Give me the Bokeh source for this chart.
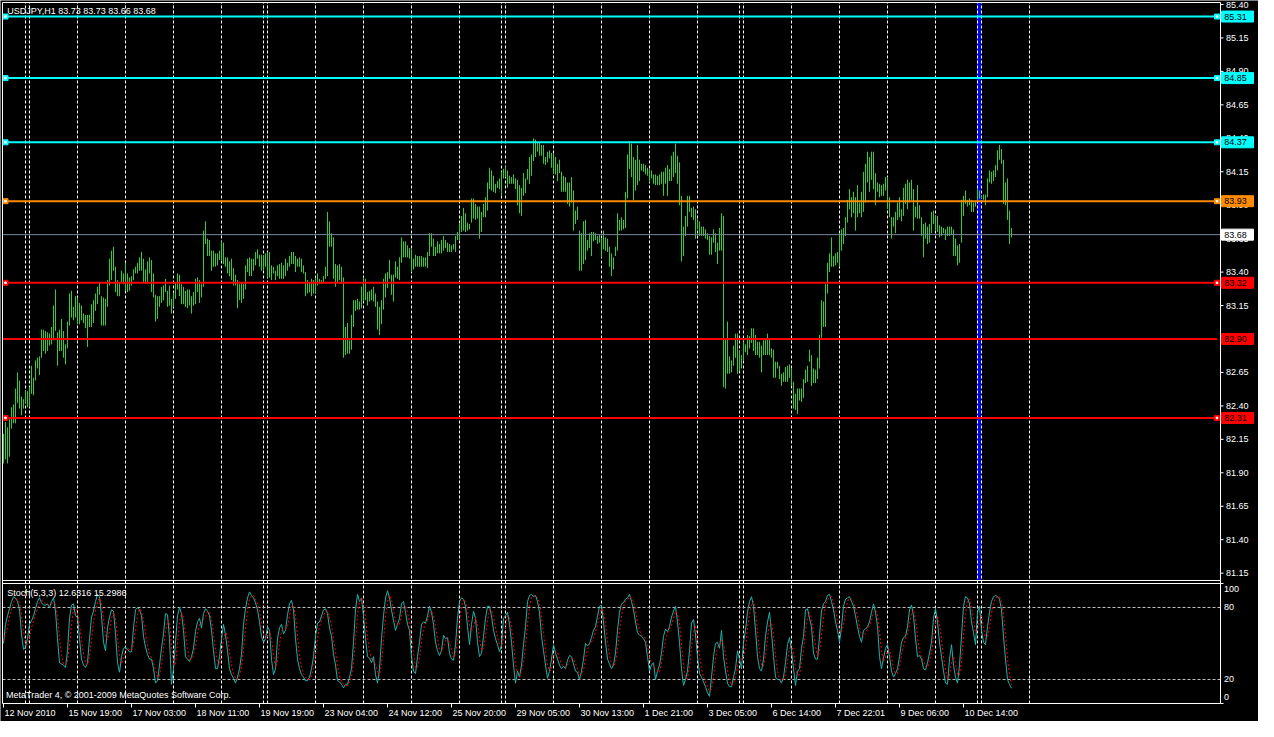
from bokeh.plotting import figure
from bokeh.models import Range1d
from bokeh.core.properties import value
from bokeh.embed import file_html
from bokeh.resources import INLINE

# ---------------- data ----------------
highs = [
82.19,82.28,82.24,82.30,82.39,82.41,82.53,82.65,82.59,82.47,
82.45,82.51,82.51,82.54,82.70,82.61,82.74,82.76,82.77,82.97,
82.97,82.96,82.95,82.94,82.99,83.15,83.27,82.95,82.97,83.05,
82.96,82.86,83.03,83.24,83.26,83.14,83.22,83.21,83.17,83.15,
83.09,83.08,83.08,83.08,83.16,83.19,83.24,83.29,83.32,83.22,
83.21,83.20,83.34,83.50,83.56,83.59,83.44,83.34,83.32,83.41,
83.39,83.47,83.39,83.36,83.37,83.42,83.44,83.47,83.51,83.55,
83.50,83.42,83.48,83.51,83.49,83.39,83.23,83.22,83.22,83.29,
83.30,83.35,83.26,83.30,83.20,83.24,83.32,83.39,83.38,83.31,
83.29,83.26,83.27,83.27,83.22,83.25,83.35,83.36,83.34,83.31,
83.71,83.78,83.65,83.64,83.56,83.56,83.54,83.54,83.56,83.63,
83.62,83.51,83.51,83.48,83.50,83.43,83.38,83.34,83.31,83.32,
83.31,83.45,83.50,83.51,83.50,83.50,83.55,83.57,83.53,83.53,
83.52,83.54,83.55,83.55,83.45,83.44,83.41,83.45,83.46,83.47,
83.45,83.50,83.47,83.52,83.55,83.55,83.52,83.50,83.51,83.50,
83.45,83.40,83.34,83.32,83.35,83.34,83.35,83.39,83.35,83.34,
83.37,83.44,83.85,83.78,83.69,83.66,83.46,83.45,83.46,83.44,
83.36,82.99,83.02,82.89,83.08,83.19,83.19,83.20,83.18,83.29,
83.36,83.35,83.25,83.26,83.27,83.29,83.24,83.18,83.14,83.19,
83.35,83.39,83.40,83.49,83.38,83.38,83.48,83.44,83.51,83.66,
83.63,83.63,83.60,83.58,83.57,83.50,83.53,83.52,83.52,83.52,
83.51,83.51,83.55,83.69,83.69,83.65,83.59,83.63,83.61,83.64,
83.67,83.64,83.62,83.61,83.60,83.61,83.67,83.70,83.76,83.82,
83.88,83.84,83.77,83.76,83.95,83.95,83.91,83.89,83.89,83.85,
83.91,83.96,84.07,84.18,84.16,84.12,84.06,84.08,84.10,84.15,
84.17,84.19,84.16,84.12,84.11,84.13,84.10,84.09,84.05,84.03,
84.14,84.10,84.17,84.26,84.28,84.40,84.39,84.37,84.37,84.35,
84.35,84.26,84.30,84.31,84.29,84.29,84.26,84.21,84.24,84.15,
84.12,84.11,84.07,84.07,84.11,84.01,83.86,83.89,83.71,83.69,
83.78,83.79,83.64,83.69,83.70,83.70,83.69,83.67,83.68,83.65,
83.71,83.66,83.65,83.59,83.54,83.51,83.59,83.84,83.79,83.81,
83.79,84.00,84.28,84.38,84.36,84.26,84.24,84.35,84.24,84.21,
84.21,84.20,84.18,84.17,84.16,84.13,84.13,84.12,84.13,84.15,
84.15,84.18,84.20,84.17,84.27,84.30,84.36,84.27,84.22,83.97,
83.74,83.82,83.97,83.97,83.88,83.89,83.87,83.80,83.78,83.74,
83.74,83.72,83.69,83.67,83.66,83.72,83.69,83.62,83.73,83.84,
83.82,82.90,83.03,82.77,82.74,82.85,82.94,82.94,82.81,82.78,
82.88,82.86,82.93,82.92,82.98,82.98,82.93,82.88,82.88,82.85,
82.89,82.90,82.94,82.90,82.83,82.82,82.73,82.73,82.70,82.64,
82.65,82.69,82.70,82.71,82.68,82.58,82.49,82.53,82.53,82.53,
82.60,82.67,82.70,82.82,82.78,82.68,82.67,82.76,82.93,83.19,
83.18,83.31,83.47,83.54,83.66,83.52,83.54,83.55,83.69,83.72,
83.73,83.81,83.94,84.02,83.96,84.00,83.96,84.05,83.92,84.00,
84.15,84.21,84.30,84.26,84.30,84.30,84.14,84.07,84.06,84.05,
84.06,84.11,84.11,83.96,83.81,83.81,83.85,83.92,83.96,83.87,
84.03,84.06,84.09,84.07,84.09,84.02,83.89,84.05,83.90,83.81,
83.76,83.77,83.74,83.76,83.85,83.86,83.82,83.82,83.75,83.74,
83.73,83.72,83.74,83.74,83.74,83.72,83.65,83.60,83.61,83.94,
83.97,84.01,83.94,83.95,83.94,83.92,83.93,84.02,84.01,83.97,
83.98,83.98,84.10,84.16,84.15,84.16,84.20,84.31,84.35,84.32,
84.24,84.07,84.10,83.86,83.73]

lows = [
81.97,82.00,81.97,82.02,82.23,82.27,82.27,82.42,82.38,82.33,
82.38,82.42,82.39,82.39,82.49,82.48,82.59,82.68,82.63,82.76,
82.81,82.79,82.81,82.85,82.86,82.89,82.96,82.70,82.81,82.81,
82.76,82.71,82.83,83.00,83.06,83.04,83.06,83.01,83.01,83.04,
83.02,82.98,82.84,82.99,82.99,83.02,83.11,83.16,83.23,83.00,
83.00,83.00,83.14,83.30,83.34,83.41,83.25,83.22,83.22,83.32,
83.31,83.26,83.25,83.26,83.30,83.34,83.39,83.39,83.41,83.41,
83.32,83.31,83.32,83.39,83.25,83.21,83.03,83.05,83.14,83.17,
83.19,83.25,83.14,83.15,83.09,83.14,83.20,83.27,83.22,83.16,
83.16,83.14,83.13,83.15,83.09,83.15,83.16,83.25,83.17,83.21,
83.29,83.61,83.52,83.52,83.41,83.44,83.44,83.45,83.49,83.49,
83.46,83.44,83.39,83.37,83.34,83.30,83.30,83.13,83.19,83.17,
83.20,83.27,83.40,83.37,83.37,83.41,83.45,83.50,83.44,83.41,
83.41,83.44,83.36,83.36,83.34,83.39,83.34,83.37,83.35,83.35,
83.35,83.37,83.41,83.44,83.46,83.46,83.40,83.44,83.44,83.40,
83.39,83.22,83.24,83.25,83.22,83.24,83.24,83.30,83.31,83.31,
83.32,83.35,83.37,83.59,83.59,83.35,83.29,83.32,83.34,83.31,
82.76,82.78,82.79,82.79,82.82,82.99,83.11,83.12,83.12,83.13,
83.18,83.19,83.15,83.18,83.19,83.18,83.14,82.97,82.93,83.01,
83.12,83.21,83.28,83.35,83.23,83.18,83.36,83.35,83.34,83.47,
83.51,83.51,83.51,83.50,83.40,83.42,83.44,83.44,83.44,83.44,
83.44,83.44,83.43,83.52,83.59,83.52,83.52,83.54,83.54,83.54,
83.56,83.58,83.55,83.55,83.55,83.57,83.55,83.64,83.64,83.70,
83.71,83.70,83.71,83.72,83.77,83.80,83.79,83.80,83.65,83.70,
83.81,83.81,83.86,84.02,84.01,84.00,83.99,84.03,84.02,83.97,
84.10,84.11,84.03,84.06,84.06,84.06,84.02,83.90,83.84,83.82,
83.97,83.99,84.09,84.06,84.12,84.23,84.26,84.30,84.27,84.27,
84.21,84.20,84.22,84.25,84.18,84.14,84.13,84.08,84.14,84.00,
84.00,84.00,83.91,83.89,83.92,83.71,83.76,83.79,83.41,83.41,
83.46,83.49,83.56,83.58,83.52,83.63,83.64,83.61,83.62,83.51,
83.57,83.56,83.55,83.44,83.37,83.42,83.52,83.56,83.71,83.71,
83.72,83.73,83.95,84.17,84.11,83.94,84.01,84.05,84.08,84.16,
84.15,84.13,84.12,84.07,84.10,84.06,84.05,84.05,84.05,84.06,
83.97,84.06,83.97,84.08,84.08,84.11,84.14,84.06,83.90,83.48,
83.52,83.67,83.74,83.85,83.81,83.79,83.65,83.72,83.67,83.67,
83.67,83.65,83.64,83.53,83.53,83.62,83.55,83.46,83.56,83.56,
82.54,82.53,82.64,82.64,82.65,82.70,82.76,82.64,82.66,82.68,
82.74,82.80,82.78,82.83,82.87,82.81,82.78,82.78,82.76,82.65,
82.78,82.78,82.78,82.78,82.76,82.61,82.61,82.68,82.60,82.55,
82.58,82.58,82.58,82.61,82.55,82.38,82.37,82.34,82.44,82.43,
82.46,82.57,82.58,82.73,82.55,82.57,82.57,82.60,82.68,82.91,
82.99,82.99,83.24,83.40,83.44,83.44,83.45,83.47,83.44,83.56,
83.61,83.67,83.77,83.87,83.81,83.84,83.71,83.81,83.84,83.81,
83.85,83.92,84.07,84.00,84.09,84.02,83.90,84.00,83.96,83.97,
83.97,84.01,83.87,83.81,83.65,83.74,83.69,83.79,83.81,83.78,
83.82,83.91,83.87,83.92,83.94,83.71,83.81,83.80,83.80,83.67,
83.51,83.65,83.61,83.62,83.69,83.76,83.71,83.70,83.66,83.67,
83.69,83.64,83.67,83.67,83.68,83.52,83.52,83.45,83.47,83.62,
83.82,83.91,83.89,83.90,83.85,83.85,83.89,83.94,83.95,83.95,
83.94,83.90,83.96,84.07,84.06,84.08,84.11,84.16,84.24,84.21,
83.91,83.90,83.79,83.61,83.66]

stoch_main = [
50,66,73,79,85,89,88,85,78,58, 45,47,54,66,69,73,79,85,88,84,
82,82,83,80,85,88,77,54,34,33, 32,30,44,71,82,83,73,72,54,37,
32,30,34,54,72,77,85,91,89,73, 51,44,63,72,78,77,58,34,26,39,
46,47,45,43,43,63,78,80,78,73, 56,47,41,37,37,29,17,19,32,46,
58,75,74,54,16,29,51,73,80,75, 61,39,37,35,39,46,60,68,71,63,
75,79,77,73,61,44,29,29,39,54, 66,57,44,29,24,21,17,22,29,41,
66,79,88,93,90,88,84,78,68,56, 51,54,64,61,37,24,29,54,63,66,
58,61,74,83,86,78,54,37,29,24, 22,19,19,22,29,39,56,67,68,73,
78,79,75,63,56,41,32,19,18,16, 13,16,16,22,29,51,78,91,85,88,
73,54,39,38,34,39,24,17,29,54, 73,88,94,88,78,69,61,66,71,83,
85,76,66,61,39,27,25,39,51,66, 68,67,73,81,76,66,51,44,40,44,
57,54,55,42,37,36,49,71,85,88, 87,81,64,49,66,77,71,51,39,42,
56,71,81,81,73,61,54,49,43,49, 71,73,76,66,51,32,17,27,22,32,
49,64,85,90,91,89,90,85,76,56, 44,32,21,27,37,49,42,37,32,29,
31,29,36,40,39,33,27,26,20,27, 37,50,48,50,55,61,64,73,81,82,
68,51,37,33,29,32,42,61,76,83, 84,87,88,91,85,78,68,59,57,56,
54,51,39,27,32,34,20,27,32,42, 56,62,60,64,72,77,81,68,51,29,
15,20,27,44,67,70,57,39,25,22, 18,14,9,6,22,39,50,51,46,61,
39,27,17,14,14,22,29,44,37,29, 51,61,76,85,89,81,61,39,29,27,
37,56,68,76,59,39,22,20,20,17, 22,34,49,55,44,29,15,27,29,46,
56,78,79,71,64,42,37,37,56,77, 83,85,90,91,85,78,68,61,51,64,
81,87,88,89,85,81,73,64,56,51, 61,62,64,68,76,83,76,64,39,29,
38,46,49,39,27,22,25,29,39,51, 55,56,64,78,82,73,54,39,40,37,
29,28,34,42,51,71,79,68,51,39, 27,17,16,37,49,32,22,17,32,56,
81,89,88,83,68,59,49,76,81,61, 51,49,64,76,85,89,90,89,87,78,
56,37,20,16,12.6316]

stoch_signal = [
52,58,63,73,79,84,87,87,84,74, 60,50,49,56,63,69,74,79,84,86,
85,83,82,82,83,84,83,73,55,40, 33,32,35,48,66,79,79,76,66,54,
41,33,32,39,53,68,78,84,88,84, 71,56,53,60,71,76,71,56,39,33,
37,44,46,45,44,50,61,74,79,77, 69,59,48,42,38,34,28,22,23,32,
45,60,69,68,48,33,32,51,68,76, 72,58,46,37,37,40,48,58,66,67,
70,72,77,76,70,59,45,34,32,41, 53,59,56,43,32,25,21,20,23,31,
45,62,78,87,90,90,87,83,77,67, 58,54,56,60,54,41,30,36,49,61,
62,62,64,73,81,82,73,56,40,30, 25,22,20,20,23,30,41,54,64,69,
73,77,77,72,65,53,43,31,23,18, 16,15,15,18,22,34,53,73,85,88,
82,72,55,44,37,37,32,27,23,33, 52,72,85,90,87,78,69,65,66,73,
80,81,76,68,55,42,30,30,38,52, 62,67,69,74,77,74,64,54,45,43,
47,52,55,50,45,38,41,52,68,81, 87,85,77,65,60,64,71,66,54,44,
46,56,69,78,78,72,63,55,49,47, 54,64,73,72,64,50,33,25,22,27,
34,48,66,80,89,90,90,88,84,72, 59,44,32,27,28,38,43,43,37,33,
31,30,32,35,38,37,33,29,24,24, 28,38,45,49,51,55,60,66,73,79,
77,67,52,40,33,31,34,45,60,73, 81,85,86,89,88,85,77,68,61,57,
56,54,48,39,33,31,29,27,26,34, 43,53,59,62,65,71,77,75,67,49,
32,21,21,30,46,60,65,55,40,29, 22,18,14,10,12,22,37,47,49,53,
49,42,28,19,15,17,22,32,37,37, 39,47,63,74,83,85,77,60,43,32,
31,40,54,67,68,58,40,27,21,19, 20,24,35,46,49,43,29,24,24,34,
44,60,71,76,71,59,48,39,43,57, 72,82,86,89,89,85,77,69,60,59,
65,77,85,88,87,85,80,73,64,57, 56,58,62,65,69,76,78,74,60,44,
35,38,44,45,38,29,25,25,31,40, 48,54,58,66,75,78,70,55,44,39,
35,31,30,35,42,55,67,73,66,53, 39,28,20,23,34,39,34,24,24,35,
56,75,86,87,80,70,59,61,69,73, 64,54,55,63,75,83,88,89,89,85,
74,57,38,24,15.2986]

time_labels = ["12 Nov 2010", "15 Nov 19:00", "17 Nov 03:00", "18 Nov 11:00",
               "19 Nov 19:00", "23 Nov 04:00", "24 Nov 12:00", "25 Nov 20:00",
               "29 Nov 05:00", "30 Nov 13:00", "1 Dec 21:00", "3 Dec 05:00",
               "6 Dec 14:00", "7 Dec 22:01", "9 Dec 06:00", "10 Dec 14:00"]
time_ticks = [0, 32, 64, 96, 128, 160, 192, 224, 256, 288, 320, 352, 384, 416, 448, 480]
day_lines = [11, 13, 37, 61, 85, 109, 130, 132, 156, 180, 204, 228, 249, 251, 275,
             299, 323, 347, 368, 370, 394, 418, 442, 466, 487, 489, 513]
price_ticks = [85.40, 85.15, 84.90, 84.65, 84.40, 84.15, 83.90, 83.65, 83.40,
               83.15, 82.90, 82.65, 82.40, 82.15, 81.90, 81.65, 81.40, 81.15]
level_prices = [85.31, 84.85, 84.37, 83.93, 83.32, 82.90, 82.31]
level_colors = ["#00FFFF", "#00FFFF", "#00FFFF", "#FF8C00", "#FF0000", "#FF0000", "#FF0000"]
level_marked = [True, True, True, True, True, False, True]
bid_price = 83.68
cursor_bar = 488
stoch_levels = [80, 20]
stoch_axis_values = [95, 80, 20, 5]
stoch_axis_text = ["100", "80", "20", "0"]
header_text = "USDJPY,H1  83.73 83.73 83.66 83.68"
stoch_text = "Stoch(5,3,3) 12.6316 15.2986"
copyright_text = "MetaTrader 4, \u00a9 2001-2009 MetaQuotes Software Corp."

# ---------------- layout (scales) ----------------
W, H = 1258, 721
X0 = -1.5                          # 2 px per bar
X1 = X0 + W / 2.0
P_TOP, P_BOT = 85.4299, 80.04126   # price scale over the whole canvas (133.8 px per yen)
S_TOP, S_BOT = 585.83, -15.0       # stochastic scale over the whole canvas
FRAME_TOP = 85.415
MAIN_BOTTOM = 81.0951
FRAME_BOTTOM = 80.1759
LEFT = -0.5
AXIS = 608.5
FONT = value("Liberation Sans")
FS = value("9px")

idx = list(range(len(highs)))

p = figure(width=W, height=H, x_range=Range1d(X0, X1), y_range=Range1d(P_BOT, P_TOP),
           output_backend="svg", toolbar_location=None,
           x_axis_location=None, y_axis_location=None,
           background_fill_color="black", border_fill_color="black",
           outline_line_color=None,
           min_border_left=0, min_border_right=0, min_border_top=0, min_border_bottom=0)
p.extra_y_ranges = {"stoch": Range1d(S_BOT, S_TOP)}
p.xgrid.visible = False
p.ygrid.visible = False

# cursor vertical line (main panel only)
p.segment(x0=[cursor_bar - 0.25], x1=[cursor_bar - 0.25], y0=[MAIN_BOTTOM], y1=[FRAME_TOP],
          line_color="#0000FF", line_width=4)

# day separators
nd = len(day_lines)
p.segment(x0=day_lines, x1=day_lines, y0=[FRAME_BOTTOM] * nd, y1=[FRAME_TOP] * nd,
          line_color="white", line_width=1, line_dash="3 2")

# price bars
p.segment(x0=idx, x1=idx, y0=lows, y1=highs, line_color="#32CD32", line_width=1)

# horizontal levels
n = len(level_prices)
p.segment(x0=[LEFT] * n, x1=[606.75] * n, y0=level_prices, y1=level_prices,
          line_color=level_colors, line_width=2)
p.segment(x0=[LEFT], x1=[AXIS], y0=[bid_price], y1=[bid_price], line_color="#778899", line_width=1)

mk_y = [y for y, m in zip(level_prices, level_marked) if m]
mk_c = [c for c, m in zip(level_colors, level_marked) if m]
for xx in (1.0, 606.75):
    p.scatter(x=[xx] * len(mk_y), y=mk_y, marker="square", size=5, fill_color=mk_c, line_color=mk_c)
    p.scatter(x=[xx] * len(mk_y), y=mk_y, marker="square", size=1.6, fill_color="white", line_color="white")

# stochastic panel
p.segment(x0=[LEFT] * 2, x1=[AXIS] * 2, y0=stoch_levels, y1=stoch_levels, y_range_name="stoch",
          line_color="#C0C0C0", line_width=1, line_dash="3 2")
p.line(idx, stoch_main, y_range_name="stoch", line_color="#20B2AA", line_width=1)
p.line(idx, stoch_signal, y_range_name="stoch", line_color="#FF0000", line_width=1, line_dash="2 2")

# frame borders and panel separators
p.segment(x0=[LEFT, AXIS, LEFT, LEFT], x1=[LEFT, AXIS, AXIS, AXIS],
          y0=[FRAME_TOP, FRAME_TOP, FRAME_TOP, MAIN_BOTTOM],
          y1=[FRAME_BOTTOM, FRAME_BOTTOM, FRAME_TOP, MAIN_BOTTOM],
          line_color="white", line_width=1)
p.segment(x0=[LEFT, LEFT], x1=[AXIS, AXIS], y0=[100, 0], y1=[100, 0], y_range_name="stoch",
          line_color="white", line_width=1)

# price axis (right): ticks and labels
npt = len(price_ticks)
p.segment(x0=[AXIS] * npt, x1=[AXIS + 1.5] * npt, y0=price_ticks, y1=price_ticks,
          line_color="white", line_width=1)
p.segment(x0=[AXIS] * 2, x1=[AXIS + 1.5] * 2, y0=[100, 0], y1=[100, 0], y_range_name="stoch",
          line_color="white", line_width=1)
p.text(x=[AXIS + 2.75] * npt, y=price_ticks, text=[f"{t:.2f}" for t in price_ticks],
       text_font=FONT, text_font_size=FS, text_color="white",
       text_align="left", text_baseline="middle")
p.text(x=[AXIS + 1.75] * len(stoch_axis_values), y=stoch_axis_values, text=stoch_axis_text,
       y_range_name="stoch", text_font=FONT, text_font_size=FS, text_color="white",
       text_align="left", text_baseline="middle")

# price tags over the axis
tag_prices = level_prices + [bid_price]
tag_colors = level_colors + ["#FFFFFF"]
p.rect(x=[AXIS + 8.5] * len(tag_prices), y=tag_prices, width=32, height=11,
       width_units="screen", height_units="screen",
       fill_color=tag_colors, line_color=tag_colors)
p.text(x=[AXIS + 1.9] * len(tag_prices), y=tag_prices, text=[f"{t:.2f}" for t in tag_prices],
       text_font=FONT, text_font_size=FS, text_color="black",
       text_align="left", text_baseline="middle")

# time axis (below): ticks and left-aligned labels
nt = len(time_ticks)
p.segment(x0=time_ticks, x1=time_ticks, y0=[FRAME_BOTTOM] * nt, y1=[80.146] * nt,
          line_color="white", line_width=1)
p.text(x=[t + 0.5 for t in time_ticks], y=[80.1085] * nt, text=time_labels,
       text_font=FONT, text_font_size=FS, text_color="white",
       text_align="left", text_baseline="middle")

# header texts
p.text(x=[1.9], y=[85.35], text=[header_text], text_font=FONT, text_font_size=FS,
       text_color="white", text_align="left", text_baseline="middle")
p.text(x=[1.9, 1.25], y=[91.9, 6.9], text=[stoch_text, copyright_text], y_range_name="stoch",
       text_font=FONT, text_font_size=FS, text_color="white",
       text_align="left", text_baseline="middle")

open("out.html", "w").write(file_html(p, INLINE))
